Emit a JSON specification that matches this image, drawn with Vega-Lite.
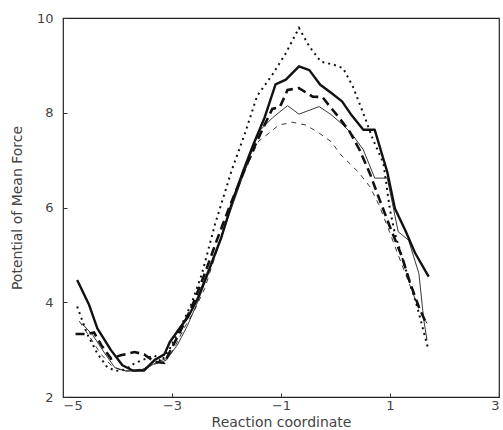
{
  "$schema": "https://vega.github.io/schema/vega-lite/v6.json",
  "width": 436,
  "height": 379,
  "autosize": "none",
  "padding": {"left": 63, "top": 18, "right": 4, "bottom": 33},
  "background": "white",
  "config": {
    "view": {"stroke": "#222", "strokeWidth": 1.2},
    "font": "DejaVu Sans",
    "axis": {"grid": false, "domain": false, "labelFont": "DejaVu Sans", "titleFont": "DejaVu Sans", "labelColor": "#444", "titleColor": "#444", "labelFontSize": 13, "titleFontSize": 14, "titleFontWeight": "normal", "tickColor": "#333"}
  },
  "datasets": {
    "pmf": [
      {"s":"A","x":-4.74,"y":4.47},{"s":"A","x":-4.52,"y":3.94},{"s":"A","x":-4.37,"y":3.45},{"s":"A","x":-4.12,"y":2.99},{"s":"A","x":-3.91,"y":2.67},{"s":"A","x":-3.72,"y":2.56},{"s":"A","x":-3.51,"y":2.56},{"s":"A","x":-3.32,"y":2.78},{"s":"A","x":-3.14,"y":2.9},{"s":"A","x":-3.04,"y":3.16},{"s":"A","x":-2.86,"y":3.45},{"s":"A","x":-2.7,"y":3.7},{"s":"A","x":-2.52,"y":4.1},{"s":"A","x":-2.3,"y":4.75},{"s":"A","x":-2.1,"y":5.35},{"s":"A","x":-1.9,"y":6.1},{"s":"A","x":-1.7,"y":6.75},{"s":"A","x":-1.5,"y":7.35},{"s":"A","x":-1.3,"y":7.9},{"s":"A","x":-1.1,"y":8.6},{"s":"A","x":-0.91,"y":8.7},{"s":"A","x":-0.67,"y":8.98},{"s":"A","x":-0.48,"y":8.9},{"s":"A","x":-0.28,"y":8.59},{"s":"A","x":-0.07,"y":8.41},{"s":"A","x":0.12,"y":8.24},{"s":"A","x":0.3,"y":7.94},{"s":"A","x":0.51,"y":7.64},{"s":"A","x":0.72,"y":7.64},{"s":"A","x":0.95,"y":6.75},{"s":"A","x":1.09,"y":5.98},{"s":"A","x":1.28,"y":5.52},{"s":"A","x":1.46,"y":5.04},{"s":"A","x":1.71,"y":4.54},
      {"s":"B","x":-4.65,"y":3.55},{"s":"B","x":-4.45,"y":3.3},{"s":"B","x":-4.25,"y":2.95},{"s":"B","x":-4.05,"y":2.62},{"s":"B","x":-3.85,"y":2.55},{"s":"B","x":-3.65,"y":2.55},{"s":"B","x":-3.45,"y":2.62},{"s":"B","x":-3.25,"y":2.75},{"s":"B","x":-3.08,"y":2.82},{"s":"B","x":-2.9,"y":3.1},{"s":"B","x":-2.72,"y":3.5},{"s":"B","x":-2.55,"y":3.95},{"s":"B","x":-2.35,"y":4.55},{"s":"B","x":-2.15,"y":5.2},{"s":"B","x":-1.95,"y":5.85},{"s":"B","x":-1.75,"y":6.5},{"s":"B","x":-1.58,"y":7.05},{"s":"B","x":-1.41,"y":7.6},{"s":"B","x":-1.15,"y":7.9},{"s":"B","x":-0.88,"y":8.15},{"s":"B","x":-0.67,"y":7.97},{"s":"B","x":-0.3,"y":8.13},{"s":"B","x":-0.08,"y":7.96},{"s":"B","x":0.1,"y":7.78},{"s":"B","x":0.29,"y":7.57},{"s":"B","x":0.51,"y":7.22},{"s":"B","x":0.72,"y":6.62},{"s":"B","x":0.95,"y":6.62},{"s":"B","x":1.15,"y":5.49},{"s":"B","x":1.34,"y":5.31},{"s":"B","x":1.53,"y":4.61},{"s":"B","x":1.62,"y":3.62},{"s":"B","x":1.68,"y":3.2},
      {"s":"C","x":-4.77,"y":3.33},{"s":"C","x":-4.55,"y":3.33},{"s":"C","x":-4.43,"y":3.36},{"s":"C","x":-4.3,"y":3.1},{"s":"C","x":-4.12,"y":2.81},{"s":"C","x":-3.94,"y":2.88},{"s":"C","x":-3.69,"y":2.95},{"s":"C","x":-3.51,"y":2.9},{"s":"C","x":-3.32,"y":2.74},{"s":"C","x":-3.14,"y":2.72},{"s":"C","x":-3.02,"y":3.0},{"s":"C","x":-2.82,"y":3.45},{"s":"C","x":-2.62,"y":3.95},{"s":"C","x":-2.4,"y":4.6},{"s":"C","x":-2.18,"y":5.3},{"s":"C","x":-1.95,"y":6.0},{"s":"C","x":-1.72,"y":6.65},{"s":"C","x":-1.5,"y":7.25},{"s":"C","x":-1.32,"y":7.7},{"s":"C","x":-1.16,"y":8.08},{"s":"C","x":-1.02,"y":8.12},{"s":"C","x":-0.88,"y":8.48},{"s":"C","x":-0.67,"y":8.52},{"s":"C","x":-0.42,"y":8.34},{"s":"C","x":-0.24,"y":8.33},{"s":"C","x":-0.08,"y":8.1},{"s":"C","x":0.07,"y":7.89},{"s":"C","x":0.26,"y":7.6},{"s":"C","x":0.44,"y":7.22},{"s":"C","x":0.63,"y":6.72},{"s":"C","x":0.81,"y":6.16},{"s":"C","x":1.0,"y":5.59},{"s":"C","x":1.22,"y":4.96},{"s":"C","x":1.37,"y":4.4},{"s":"C","x":1.53,"y":3.9},{"s":"C","x":1.65,"y":3.59},
      {"s":"D","x":-4.7,"y":3.6},{"s":"D","x":-4.5,"y":3.25},{"s":"D","x":-4.3,"y":2.9},{"s":"D","x":-4.1,"y":2.65},{"s":"D","x":-3.9,"y":2.55},{"s":"D","x":-3.7,"y":2.55},{"s":"D","x":-3.5,"y":2.62},{"s":"D","x":-3.3,"y":2.7},{"s":"D","x":-3.1,"y":2.78},{"s":"D","x":-2.95,"y":3.05},{"s":"D","x":-2.78,"y":3.45},{"s":"D","x":-2.6,"y":3.8},{"s":"D","x":-2.4,"y":4.29},{"s":"D","x":-2.2,"y":5.0},{"s":"D","x":-2.0,"y":5.75},{"s":"D","x":-1.72,"y":6.65},{"s":"D","x":-1.41,"y":7.4},{"s":"D","x":-1.22,"y":7.57},{"s":"D","x":-1.04,"y":7.74},{"s":"D","x":-0.79,"y":7.8},{"s":"D","x":-0.54,"y":7.74},{"s":"D","x":-0.3,"y":7.57},{"s":"D","x":-0.08,"y":7.39},{"s":"D","x":0.1,"y":7.11},{"s":"D","x":0.26,"y":6.93},{"s":"D","x":0.44,"y":6.72},{"s":"D","x":0.63,"y":6.44},{"s":"D","x":0.8,"y":6.05},{"s":"D","x":0.97,"y":5.55},{"s":"D","x":1.15,"y":5.0},{"s":"D","x":1.35,"y":4.4},{"s":"D","x":1.52,"y":3.9},{"s":"D","x":1.68,"y":3.55},
      {"s":"E","x":-4.74,"y":3.91},{"s":"E","x":-4.56,"y":3.34},{"s":"E","x":-4.37,"y":2.92},{"s":"E","x":-4.19,"y":2.63},{"s":"E","x":-4.03,"y":2.55},{"s":"E","x":-3.85,"y":2.58},{"s":"E","x":-3.69,"y":2.71},{"s":"E","x":-3.5,"y":2.8},{"s":"E","x":-3.32,"y":2.88},{"s":"E","x":-3.2,"y":2.75},{"s":"E","x":-3.05,"y":3.0},{"s":"E","x":-2.85,"y":3.45},{"s":"E","x":-2.65,"y":3.95},{"s":"E","x":-2.45,"y":4.6},{"s":"E","x":-2.21,"y":5.65},{"s":"E","x":-1.9,"y":6.8},{"s":"E","x":-1.65,"y":7.6},{"s":"E","x":-1.44,"y":8.35},{"s":"E","x":-1.16,"y":8.8},{"s":"E","x":-0.91,"y":9.26},{"s":"E","x":-0.67,"y":9.79},{"s":"E","x":-0.48,"y":9.4},{"s":"E","x":-0.27,"y":9.08},{"s":"E","x":-0.02,"y":9.01},{"s":"E","x":0.14,"y":8.94},{"s":"E","x":0.32,"y":8.55},{"s":"E","x":0.51,"y":7.99},{"s":"E","x":0.69,"y":7.43},{"s":"E","x":0.88,"y":6.93},{"s":"E","x":1.0,"y":5.95},{"s":"E","x":1.09,"y":5.45},{"s":"E","x":1.3,"y":4.65},{"s":"E","x":1.5,"y":3.9},{"s":"E","x":1.69,"y":3.06}
    ]
  },
  "data": {"name": "pmf"},
  "encoding": {
    "x": {"field": "x", "type": "quantitative", "scale": {"domain": [-5, 3], "nice": false}, "axis": {"values": [-5, -3, -1, 1, 3], "title": "Reaction coordinate", "tickSize": -4, "labelPadding": 6, "titlePadding": 3}},
    "y": {"field": "y", "type": "quantitative", "scale": {"domain": [2, 10], "nice": false}, "axis": {"values": [2, 4, 6, 8, 10], "title": "Potential of Mean Force", "tickSize": -4, "labelPadding": 14, "titlePadding": 12}}
  },
  "layer": [
    {"transform": [{"filter": "datum.s === 'D'"}], "mark": {"type": "line", "color": "#222", "strokeWidth": 0.9, "strokeDash": [5, 5]}},
    {"transform": [{"filter": "datum.s === 'B'"}], "mark": {"type": "line", "color": "#222", "strokeWidth": 0.9}},
    {"transform": [{"filter": "datum.s === 'E'"}], "mark": {"type": "line", "color": "#111", "strokeWidth": 2, "strokeDash": [2, 4]}},
    {"transform": [{"filter": "datum.s === 'C'"}], "mark": {"type": "line", "color": "#111", "strokeWidth": 2.6, "strokeDash": [9, 5]}},
    {"transform": [{"filter": "datum.s === 'A'"}], "mark": {"type": "line", "color": "#111", "strokeWidth": 2.4, "strokeJoin": "round"}}
  ]
}
